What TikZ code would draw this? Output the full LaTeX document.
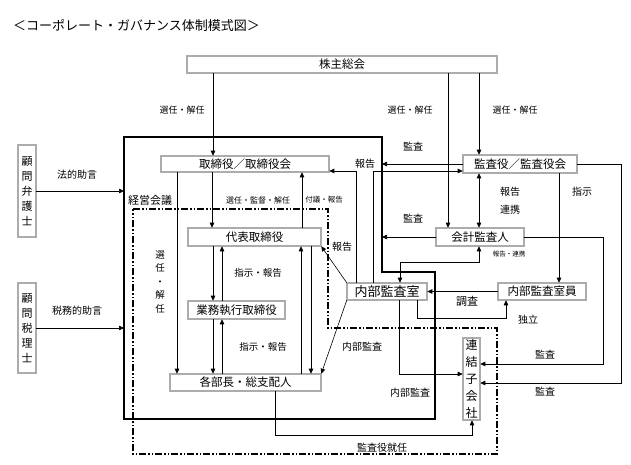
\documentclass[tikz,border=0pt]{standalone}
\usepackage{fontspec}
\setmainfont{Noto Sans CJK JP}
\usetikzlibrary{arrows.meta,positioning}

\begin{document}
\begin{tikzpicture}[
    x=1pt, y=-1pt,
    box/.style={draw=black, line width=0.55pt, double=gray!65, double distance=1.4pt, fill=white, inner sep=0pt, font=\fontsize{11.5}{12}\selectfont},
    vbox/.style={box, align=center, font=\fontsize{11}{15}\selectfont},
    lbl/.style={inner sep=0pt, font=\fontsize{10}{12}\selectfont},
    arrow/.style={line width=0.6pt, -{Triangle[length=5pt,width=4.5pt]}},
    twoway/.style={line width=0.6pt, {Triangle[length=5pt,width=4.5pt]}-{Triangle[length=5pt,width=4.5pt]}},
    frame/.style={line width=1.5pt},
    meeting/.style={line width=1.3pt, dash pattern=on 7pt off 2pt on 1.5pt off 2pt on 1.5pt off 2pt}
]
  \useasboundingbox (0,0) rectangle (631,465);

  % Title
  \node[lbl, anchor=west, font=\fontsize{13}{14}\selectfont] (title) at (13,26) {＜コーポレート・ガバナンス体制模式図＞};

  % Frames
  \draw[frame] (124,137) -- (382,137) -- (382,272) -- (435,272) -- (435,419) -- (124,419) -- cycle;
  \draw[meeting] (133,209) -- (328,209) -- (328,328) -- (497,328) -- (497,454) -- (133,454) -- cycle;
  \coordinate (boardW) at (124,0);
  \coordinate (boardE) at (382,0);

  % Nodes
  \node[box, minimum width=310pt, minimum height=17pt] (soukai) at (342,64.5) {株主総会};
  \node[box, minimum width=168pt, minimum height=16pt] (torikai) at (245,164) {取締役／取締役会};
  \node[box, minimum width=133pt, minimum height=18pt] (daihyo) at (254.5,237) {代表取締役};
  \node[box, minimum width=97pt, minimum height=18pt] (gyomu) at (236.5,310) {業務執行取締役};
  \node[box, minimum width=151pt, minimum height=17pt] (bucho) at (245.5,382.5) {各部長・総支配人};
  \node[box, minimum width=114pt, minimum height=18pt] (kansa) at (520,164) {監査役／監査役会};
  \node[box, minimum width=88pt, minimum height=18pt] (kaikei) at (480,237) {会計監査人};
  \node[box, minimum width=80pt, minimum height=17pt, font=\fontsize{13}{14}\selectfont] (naibu) at (387,291.5) {内部監査室};
  \node[box, minimum width=88pt, minimum height=17pt] (naibuin) at (542,291.5) {内部監査室員};
  \node[vbox, minimum width=17pt, minimum height=82pt, font=\fontsize{12}{17}\selectfont] (kogaisha) at (471.5,379) {連\\結\\子\\会\\社};
  \node[vbox, minimum width=18pt, minimum height=92pt] (bengoshi) at (27,191) {顧\\問\\弁\\護\\士};
  \node[vbox, minimum width=18pt, minimum height=90pt] (zeirishi) at (27,328) {顧\\問\\税\\理\\士};

  % Labels
  \node[lbl, font=\fontsize{11}{12}\selectfont] (keiei) at (150,200) {経営会議};
  \node[lbl, font=\fontsize{9}{10}\selectfont] (senA) at (182,110) {選任・解任};
  \node[lbl, font=\fontsize{9}{10}\selectfont] (senB) at (410,110) {選任・解任};
  \node[lbl, font=\fontsize{9}{10}\selectfont] (senC) at (515,110) {選任・解任};
  \node[lbl] (hoteki) at (77,175) {法的助言};
  \node[lbl] (zeimu) at (77,311) {税務的助言};
  \node[lbl, font=\fontsize{8}{9}\selectfont] (kantoku) at (258,200) {選任・監督・解任};
  \node[lbl, font=\fontsize{7.5}{9}\selectfont] (fugi) at (324,200) {付議・報告};
  \node[lbl, align=center, font=\fontsize{9.5}{13.5}\selectfont] (senD) at (160,282) {選\\任\\・\\解\\任};
  \node[lbl, font=\fontsize{9.5}{11}\selectfont] (shijiA) at (258,273) {指示・報告};
  \node[lbl, font=\fontsize{9.5}{11}\selectfont] (shijiB) at (263,347) {指示・報告};
  \node[lbl] (hokokuA) at (342,247) {報告};
  \node[lbl] (naibuA) at (362,347) {内部監査};
  \node[lbl] (kansaA) at (413,147) {監査};
  \node[lbl] (hokokuB) at (365,164) {報告};
  \node[lbl] (kansaB) at (413,219) {監査};
  \node[lbl] (hokokuC) at (510,192) {報告};
  \node[lbl] (renkei) at (510,210) {連携};
  \node[lbl] (shijiC) at (582,192) {指示};
  \node[lbl, font=\fontsize{6.5}{8}\selectfont] (hokokuD) at (509,254) {報告・連携};
  \node[lbl, font=\fontsize{11}{12}\selectfont] (chosa) at (467,301) {調査};
  \node[lbl] (dokuritsu) at (528,320) {独立};
  \node[lbl] (kansaC) at (545,355) {監査};
  \node[lbl] (kansaD) at (545,392) {監査};
  \node[lbl] (naibuB) at (410,393) {内部監査};
  \node[lbl] (shunin) at (382,448) {監査役就任};

  % Arrows
  \draw[arrow] (soukai.south -| 213,0) -- (torikai.north -| 213,0);
  \draw[arrow] (soukai.south -| 448,0) -- (kaikei.north -| 448,0);
  \draw[arrow] (soukai.south -| 479,0) -- (kansa.north -| 479,0);
  \draw[arrow] (bengoshi.east) -- (bengoshi.east -| boardW);
  \draw[arrow] (zeirishi.east) -- (zeirishi.east -| boardW);
  \draw[arrow] (torikai.south -| 212,0) -- (daihyo.north -| 212,0);
  \draw[arrow] (daihyo.north -| 302,0) -- (torikai.south -| 302,0);
  \draw[arrow] (torikai.south -| 177,0) -- (bucho.north -| 177,0);
  \draw[arrow] (daihyo.south -| 213,0) -- (gyomu.north -| 213,0);
  \draw[arrow] (gyomu.north -| 222,0) -- (daihyo.south -| 222,0);
  \draw[arrow] (gyomu.south -| 213,0) -- (bucho.north -| 213,0);
  \draw[arrow] (bucho.north -| 222,0) -- (gyomu.south -| 222,0);
  \draw[arrow] (bucho.north -| 301,0) -- (daihyo.south -| 301,0);
  \draw[arrow] (daihyo.south -| 311,0) -- (bucho.north -| 311,0);
  \draw[arrow] (naibu.north west) -- (daihyo.south east);
  \draw[arrow] (naibu.south west) -- (bucho.north east);
  \draw[arrow] (naibu.north -| 356,0) |- (torikai.east |- 0,171);
  \draw[arrow] (naibu.north -| 373,0) |- (kansa.west |- 0,171);
  \draw[arrow] (kansa.west) -- (kansa.west -| boardE);
  \draw[arrow] (kaikei.west) -- (kaikei.west -| boardE);
  \draw[twoway] (kansa.south -| 479,0) -- (kaikei.north -| 479,0);
  \draw[twoway] (kaikei.south -| 479,0) -- ++(0,16) -| (naibu.north -| 400,0);
  \draw[arrow] (kansa.south -| 559,0) -- (naibuin.north -| 559,0);
  \draw[arrow] (kansa.east) -- ++(44,0) |- (kogaisha.east |- 0,383);
  \draw[arrow] (kaikei.east) -- ++(79,0) |- (kogaisha.east |- 0,364);
  \draw[arrow] (naibuin.west) -- (naibu.east);
  \draw[arrow] (naibu.south -| 417,0) -- ++(0,18) -| (naibuin.south -| 506,0);
  \draw[arrow] (naibu.south -| 399,0) |- (kogaisha.west |- 0,374);
  \draw[arrow] (bucho.south -| 275,0) -- ++(0,44) -| (kogaisha.south -| 472,0);
\end{tikzpicture}
\end{document}
